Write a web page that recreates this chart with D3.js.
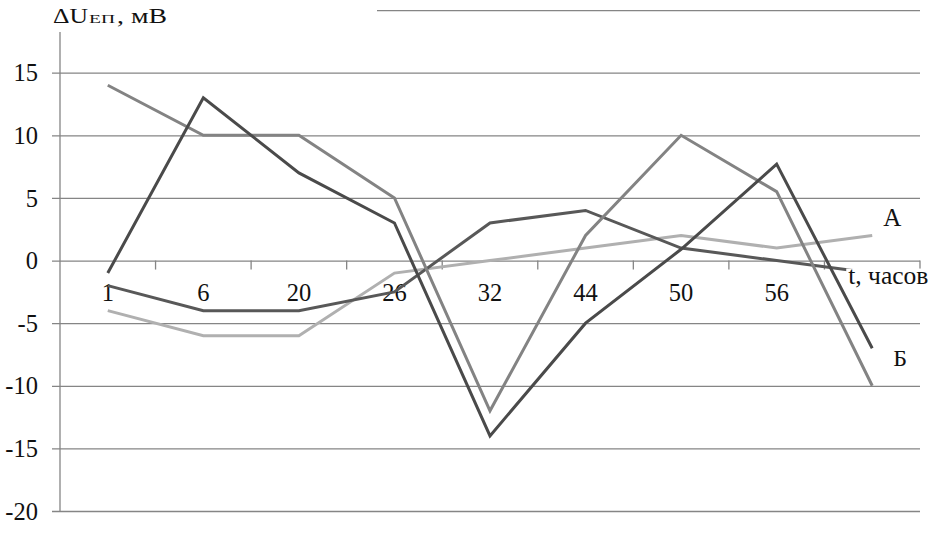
<!DOCTYPE html>
<html><head><meta charset="utf-8">
<script src="https://cdn.jsdelivr.net/npm/d3@7"></script>
<style>
html,body{margin:0;padding:0;background:#fff;overflow:hidden;}
svg{display:block;}
svg text{font-family:"Liberation Serif","Times New Roman",serif !important;}
</style></head>
<body>
<svg id="chart" width="930" height="541"></svg>
<script>
const categories = ["1","6","20","26","32","44","50","56",""];
const yTicks = [-20,-15,-10,-5,0,5,10,15,20];
const yTickLabels = ["-20","-15","-10","-5","0","5","10","15",""];
const seriesDark1 = [-1, 13, 7, 3, -14, -5, 0.9, 7.7, -7];
const seriesMid   = [14, 10, 10, 5, -12, 2, 10, 5.5, -10];
const seriesDark2 = [-2, -4, -4, -2.5, 3, 4, 1, 0, -1];
const seriesLight = [-4, -6, -6, -1, 0, 1, 2, 1, 2];
const seriesColors = ["#b0b0b0", "#585858", "#838383", "#4a4a4a"];

(function () {
const svg = d3.select("#chart");
const mLeft = 60, mRight = 920, mTop = 10.1, mBottom = 511;
const x = d3.scaleBand().domain(categories).range([mLeft, mRight]);
const y = d3.scaleLinear().domain([-20, 20]).range([mBottom, mTop]);
const gridColor = "#858585";
const serif = "'Liberation Serif', 'Times New Roman', serif";

// horizontal gridlines
const yAxis = d3.axisLeft(y).tickValues(yTicks)
  .tickSize(-(mRight - mLeft)).tickFormat((d, i) => yTickLabels[i]).tickPadding(22);
const gy = svg.append("g").attr("transform", `translate(${mLeft},0)`).call(yAxis);
gy.attr("font-family", null);
gy.select(".domain").remove();
gy.selectAll(".tick line").attr("stroke", gridColor).attr("stroke-width", 1.3)
  .attr("x1", -8);
gy.selectAll(".tick text").attr("font-size", 24.5).attr("fill", "#111")
  .style("font-family", serif).attr("dy", "0.33em");

// white box hiding top-left (title area)
svg.append("rect").attr("x", 0).attr("y", 0).attr("width", 377).attr("height", 31).attr("fill", "#fff");

// vertical axis line
svg.append("line").attr("x1", mLeft).attr("x2", mLeft).attr("y1", 32).attr("y2", mBottom)
  .attr("stroke", gridColor).attr("stroke-width", 1.3);

// x axis ticks at category boundaries on zero line
const boundaries = categories.map(c => x(c) + x.bandwidth());
svg.append("g").selectAll("line").data(boundaries).join("line")
  .attr("x1", d => d).attr("x2", d => d).attr("y1", y(0)).attr("y2", y(0) + 9)
  .attr("stroke", gridColor).attr("stroke-width", 1.3);

// category labels
svg.append("g").selectAll("text").data(categories).join("text")
  .attr("x", d => x(d) + x.bandwidth() / 2).attr("y", y(0) + 40)
  .attr("text-anchor", "middle").attr("font-size", 24.5).attr("fill", "#111")
  .style("font-family", serif)
  .text(d => d);

// lines
const line = d3.line().x((d, i) => x(categories[i]) + x.bandwidth() / 2).y(d => y(d));
const all = [seriesLight, seriesDark2, seriesMid, seriesDark1];
svg.append("g").selectAll("path").data(all).join("path")
  .attr("d", d => line(d)).attr("fill", "none")
  .attr("stroke", (d, i) => seriesColors[i]).attr("stroke-width", 3)
  .attr("stroke-linejoin", "miter");

// axis label "t, часов" with white background
const last = categories[categories.length - 1];
const cx = x(last) + x.bandwidth() / 2;
svg.append("rect").attr("x", cx - 26).attr("y", y(0) + 8).attr("width", 90).attr("height", 26).attr("fill", "#fff");
svg.append("text").attr("x", cx - 24).attr("y", y(0) + 23).attr("font-size", 25.5).attr("fill", "#111")
  .style("font-family", serif).text("t, часов");

// series labels
svg.append("text").attr("x", cx + 11).attr("y", y(seriesLight[8]) - 10).attr("font-size", 25).attr("fill", "#111")
  .style("font-family", serif).text("А");
svg.append("text").attr("x", cx + 21).attr("y", y(seriesDark1[8]) + 18).attr("font-size", 24).attr("fill", "#111")
  .style("font-family", serif).text("Б");

// title
const t = svg.append("text").attr("y", 23).attr("fill", "#111").style("font-family", serif);
t.append("tspan").attr("x", 53).attr("font-size", 20).attr("textLength", 35).attr("lengthAdjust", "spacingAndGlyphs").text("ΔU");
t.append("tspan").attr("x", 89).attr("font-size", 12.5).attr("textLength", 26).attr("lengthAdjust", "spacingAndGlyphs").text("ЕП");
t.append("tspan").attr("x", 117).attr("font-size", 20).attr("textLength", 50).attr("lengthAdjust", "spacingAndGlyphs").text(", мВ");
})();
</script>
</body></html>
